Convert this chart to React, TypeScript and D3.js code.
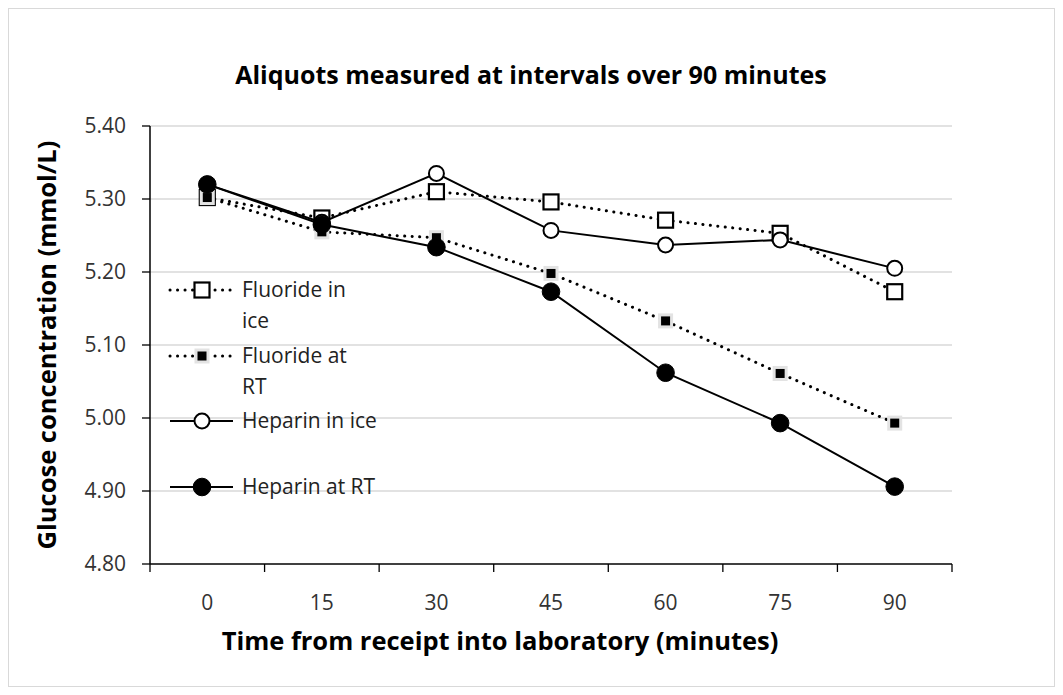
import React from "react";
import * as d3 from "d3";

const categories = ["0", "15", "30", "45", "60", "75", "90"];
const fluorideIce = [5.302, 5.274, 5.31, 5.296, 5.271, 5.253, 5.173];
const fluorideRT = [5.302, 5.255, 5.247, 5.198, 5.133, 5.061, 4.993];
const heparinIce = [5.32, 5.268, 5.335, 5.257, 5.237, 5.244, 5.205];
const heparinRT = [5.32, 5.265, 5.234, 5.173, 5.062, 4.993, 4.906];
const yTicks = [4.8, 4.9, 5.0, 5.1, 5.2, 5.3, 5.4];

const seriesNames = ["Fluoride in|ice", "Fluoride at|RT", "Heparin in ice", "Heparin at RT"];

const W = 1047;
const H = 679;
const FONT = "'Open Sans', 'Noto Sans', sans-serif";

type Kind = "openSquare" | "filledSquare" | "openCircle" | "filledCircle";

function Marker({ x, y, kind }: { x: number; y: number; kind: Kind }) {
  if (kind === "openSquare")
    return <rect x={x - 7.5} y={y - 7.5} width={15} height={15} fill="white" stroke="black" strokeWidth={2.2} />;
  if (kind === "filledSquare")
    return <rect x={x - 6} y={y - 6} width={12} height={12} fill="black" stroke="#e3e3e3" strokeWidth={3} />;
  if (kind === "openCircle")
    return <circle cx={x} cy={y} r={7.5} fill="white" stroke="black" strokeWidth={2} />;
  return <circle cx={x} cy={y} r={8.8} fill="black" stroke="black" strokeWidth={1} />;
}

export default function App() {
  const left = 142; // svg coords (page minus 8)
  const right = 944;
  const top = 118;
  const bottom = 556;
  const x = d3.scaleBand<string>().domain(categories).range([left, right]);
  const y = d3.scaleLinear().domain([4.8, 5.4]).range([bottom, top]);
  const cx = (c: string) => (x(c) as number) + x.bandwidth() / 2;

  const series: { name: string; values: number[]; dotted: boolean; kind: Kind }[] = [
    { name: seriesNames[0], values: fluorideIce, dotted: true, kind: "openSquare" },
    { name: seriesNames[1], values: fluorideRT, dotted: true, kind: "filledSquare" },
    { name: seriesNames[2], values: heparinIce, dotted: false, kind: "openCircle" },
    { name: seriesNames[3], values: heparinRT, dotted: false, kind: "filledCircle" },
  ];

  const line = d3
    .line<[number, number]>()
    .x((d) => d[0])
    .y((d) => d[1]);

  const legendY = [282, 348, 413, 479];

  return (
    <svg width={W} height={H} style={{ display: "block" }} fontFamily={FONT}>
      <rect x={0.5} y={0.5} width={W - 1} height={H - 1} fill="white" stroke="#d9d9d9" strokeWidth={1} />
      <text x={523} y={76} textAnchor="middle" fontSize={25} fontWeight="bold" fill="black">
        Aliquots measured at intervals over 90 minutes
      </text>
      {yTicks.map((t) => (
        <g key={t}>
          {t > 4.8 && <line x1={left} x2={right} y1={y(t)} y2={y(t)} stroke="#d9d9d9" strokeWidth={1.3} />}
          <line x1={left - 8} x2={left} y1={y(t)} y2={y(t)} stroke="black" strokeWidth={1.3} />
          <text x={left - 24} y={y(t) + 7} textAnchor="end" fontSize={21} fill="#333">
            {t.toFixed(2)}
          </text>
        </g>
      ))}
      <line x1={left} x2={left} y1={top} y2={bottom} stroke="black" strokeWidth={1.5} />
      <line x1={left} x2={right} y1={bottom} y2={bottom} stroke="black" strokeWidth={1.5} />
      {categories.map((c, i) => (
        <line key={"t" + i} x1={(x(c) as number)} x2={(x(c) as number)} y1={bottom} y2={bottom + 8} stroke="black" strokeWidth={1.3} />
      ))}
      <line x1={right} x2={right} y1={bottom} y2={bottom + 8} stroke="black" strokeWidth={1.3} />
      {categories.map((c) => (
        <text key={c} x={cx(c)} y={bottom + 46} textAnchor="middle" fontSize={21} fill="#333">
          {c}
        </text>
      ))}
      <text x={492} y={642} textAnchor="middle" fontSize={25.5} fontWeight="bold" fill="black">
        Time from receipt into laboratory (minutes)
      </text>
      <text
        transform={`translate(48,${337}) rotate(-90)`}
        textAnchor="middle"
        fontSize={25.5}
        fontWeight="bold"
        fill="black"
      >
        Glucose concentration (mmol/L)
      </text>
      {series.map((s, si) => {
        const pts: [number, number][] = s.values.map((v, i) => [cx(categories[i]), y(v)]);
        return (
          <g key={si}>
            <path
              d={line(pts) || ""}
              fill="none"
              stroke="black"
              strokeWidth={s.dotted ? 3 : 2}
              strokeDasharray={s.dotted ? "0.1 7.4" : undefined}
              strokeLinecap={s.dotted ? "round" : "butt"}
            />
            {pts.map((p, i) => (
              <Marker key={i} x={p[0]} y={p[1]} kind={s.kind} />
            ))}
          </g>
        );
      })}
      {series.map((s, si) => {
        const ly = legendY[si];
        const parts = s.name.split("|");
        return (
          <g key={"l" + si}>
            <path
              d={`M${162},${ly}H${225}`}
              fill="none"
              stroke="black"
              strokeWidth={s.dotted ? 3 : 2}
              strokeDasharray={s.dotted ? "0.1 7.4" : undefined}
              strokeLinecap={s.dotted ? "round" : "butt"}
            />
            <Marker x={194} y={ly} kind={s.kind} />
            {parts.map((p, pi) => (
              <text key={pi} x={234} y={ly + 7 + pi * 31} fontSize={21} fill="#222">
                {p}
              </text>
            ))}
          </g>
        );
      })}
    </svg>
  );
}
